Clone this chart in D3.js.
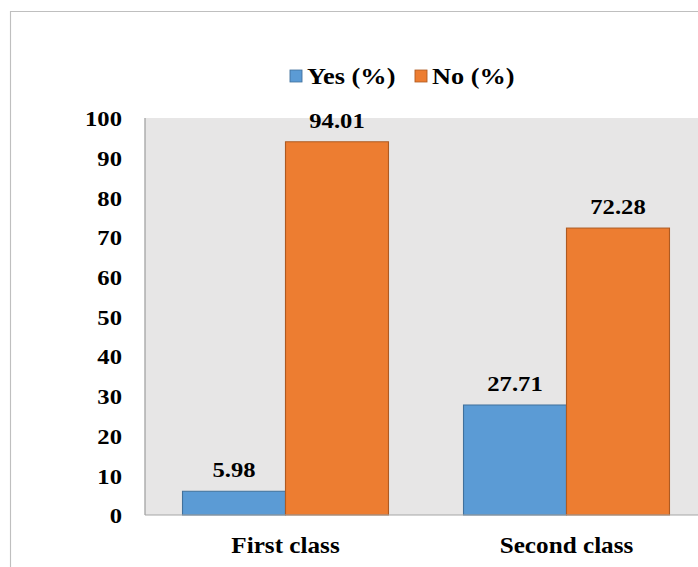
<!DOCTYPE html>
<html>
<head>
<meta charset="utf-8">
<script src="https://cdn.jsdelivr.net/npm/d3@7"></script>
<style>
  body { margin: 0; background: #fff; }
  svg { display: block; }
  text { font-family: "Liberation Serif", "Times New Roman", serif; font-weight: bold; fill: #000; }
</style>
</head>
<body>
<svg id="chart"></svg>
<script>
const categories = ["First class", "Second class"];
const seriesNames = ["Yes (%)", "No (%)"];
const yesValues = [5.98, 27.71];
const noValues = [94.01, 72.28];
const yTicks = [0, 10, 20, 30, 40, 50, 60, 70, 80, 90, 100];

const colors = ["#5b9bd5", "#ed7d31"];
const strokes = ["#41719c", "#ae5a21"];

// source image looks stretched sideways, so draw in a narrower viewBox
const k = 1.12;
const width = 698;
const height = 567;
const sx = px => px / k;

const plot = { left: 145, right: 707, top: 118, bottom: 515 };

const svg = d3.select("#chart")
  .attr("width", width)
  .attr("height", height)
  .attr("viewBox", `0 0 ${sx(width)} ${height}`)
  .attr("preserveAspectRatio", "none");

// outer border
svg.append("rect")
  .attr("x", sx(10.5))
  .attr("y", 11.5)
  .attr("width", sx(width + 20))
  .attr("height", height + 20)
  .attr("fill", "#fff")
  .attr("stroke", "#bfbfbf")
  .attr("stroke-width", 1);

// plot background
svg.append("rect")
  .attr("x", sx(plot.left))
  .attr("y", plot.top)
  .attr("width", sx(plot.right - plot.left))
  .attr("height", plot.bottom - plot.top)
  .attr("fill", "#e7e6e6");

const x0 = d3.scaleBand()
  .domain(categories)
  .range([sx(plot.left), sx(plot.right)])
  .paddingInner(0.267)
  .paddingOuter(0.1335);

const x1 = d3.scaleBand()
  .domain(seriesNames)
  .range([0, x0.bandwidth()]);

const y = d3.scaleLinear()
  .domain([0, 100])
  .range([plot.bottom, plot.top]);

const rows = categories.map((c, i) => ({ cat: c, vals: [yesValues[i], noValues[i]] }));

const groups = svg.selectAll("g.cat")
  .data(rows)
  .enter()
  .append("g")
  .attr("class", "cat")
  .attr("transform", d => `translate(${x0(d.cat)},0)`);

groups.selectAll("rect")
  .data(d => d.vals.map((v, j) => ({ name: seriesNames[j], v, j })))
  .enter()
  .append("rect")
  .attr("x", d => x1(d.name))
  .attr("y", d => y(d.v))
  .attr("width", x1.bandwidth())
  .attr("height", d => y(0) - y(d.v))
  .attr("fill", d => colors[d.j])
  .attr("stroke", d => strokes[d.j])
  .attr("stroke-width", 1);

groups.selectAll("text.val")
  .data(d => d.vals.map((v, j) => ({ name: seriesNames[j], v, j })))
  .enter()
  .append("text")
  .attr("class", "val")
  .attr("x", d => x1(d.name) + x1.bandwidth() / 2)
  .attr("y", d => y(d.v) - 14)
  .attr("text-anchor", "middle")
  .style("font-size", "22px")
  .text(d => d.v.toFixed(2));

// axis lines
svg.append("line")
  .attr("x1", sx(plot.left)).attr("x2", sx(plot.left))
  .attr("y1", plot.top).attr("y2", plot.bottom)
  .attr("stroke", "#a6a6a6").attr("stroke-width", 1.2);

svg.append("line")
  .attr("x1", sx(plot.left)).attr("x2", sx(plot.right))
  .attr("y1", plot.bottom).attr("y2", plot.bottom)
  .attr("stroke", "#a6a6a6").attr("stroke-width", 1.2);

// y axis labels
const yAxis = d3.axisLeft(y).tickValues(yTicks).tickSize(0).tickPadding(0);
const yg = svg.append("g")
  .attr("transform", `translate(${sx(122)},0)`)
  .call(yAxis);
yg.select(".domain").remove();
yg.selectAll("text")
  .attr("font-family", null)
  .style("font-size", "22px")
  .attr("dy", "0.35em");

// x axis labels
const xAxis = d3.axisBottom(x0).tickSize(0).tickPadding(0);
const xg = svg.append("g")
  .attr("transform", `translate(0,${plot.bottom})`)
  .call(xAxis);
xg.select(".domain").remove();
xg.selectAll("text")
  .attr("font-family", null)
  .attr("y", 38)
  .attr("dy", null)
  .style("font-size", "22.5px");

// legend
const legendX = [290, 415];
const legend = svg.selectAll("g.legend")
  .data(seriesNames)
  .enter()
  .append("g")
  .attr("class", "legend")
  .attr("transform", (d, i) => `translate(${sx(legendX[i])},70)`);

legend.append("rect")
  .attr("width", sx(12))
  .attr("height", 12)
  .attr("fill", (d, i) => colors[i])
  .attr("stroke", (d, i) => strokes[i])
  .attr("stroke-width", 0.8);

legend.append("text")
  .attr("x", sx(17))
  .attr("y", 13.5)
  .style("font-size", "23.5px")
  .text(d => d);
</script>
</body>
</html>
